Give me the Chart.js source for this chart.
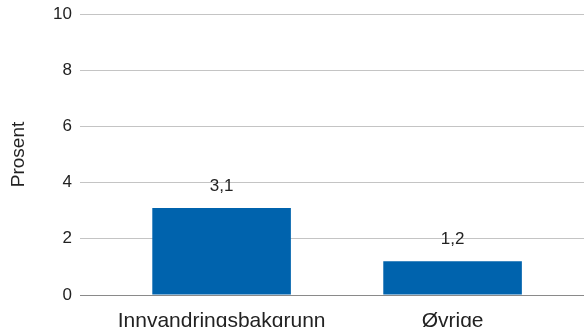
<!DOCTYPE html>
<html>
<head>
<meta charset="utf-8">
<script src="https://cdn.jsdelivr.net/npm/chart.js@4"></script>
<style>
  html, body { margin: 0; padding: 0; background: #fff; }
  #wrap { width: 584px; height: 327px; }
</style>
</head>
<body>
<div id="wrap"><canvas id="chart" width="584" height="327"></canvas></div>
<script>
// Data
const categories = ['Innvandringsbakgrunn', 'Øvrige'];
const values = [3.1, 1.2];
const valueLabels = ['3,1', '1,2'];
const yTicks = [0, 2, 4, 6, 8, 10];

const FONT = '"Liberation Sans", Arial, sans-serif';
const TEXT = '#222';

// Value labels above each bar
const barLabels = {
  id: 'barLabels',
  afterDatasetsDraw(chart) {
    const ctx = chart.ctx;
    const meta = chart.getDatasetMeta(0);
    ctx.save();
    ctx.font = '17px ' + FONT;
    ctx.fillStyle = TEXT;
    ctx.textAlign = 'center';
    ctx.textBaseline = 'alphabetic';
    meta.data.forEach((bar, i) => {
      ctx.fillText(valueLabels[i], bar.x, bar.y - 17);
    });
    ctx.restore();
  }
};

new Chart(document.getElementById('chart'), {
  type: 'bar',
  data: {
    datasets: [{
      data: values.map((v, i) => ({ x: i, y: v })),
      backgroundColor: '#0063ad',
      borderWidth: 0,
      barPercentage: 0.6,
      categoryPercentage: 1
    }]
  },
  options: {
    responsive: false,
    animation: false,
    layout: { padding: { top: 14, right: 0, left: 0, bottom: 0 } },
    plugins: {
      legend: { display: false },
      tooltip: { enabled: false }
    },
    scales: {
      x: {
        type: 'linear',
        offset: false,
        min: -0.613,
        max: 1.569,
        grid: { display: false },
        border: { display: false },
        afterBuildTicks: (scale) => {
          scale.ticks = categories.map((c, i) => ({ value: i }));
        },
        afterFit: (scale) => { scale.height = 32; },
        ticks: {
          autoSkip: false,
          maxRotation: 0,
          padding: 6,
          color: TEXT,
          font: { family: FONT, size: 21 },
          callback: (v) => categories[v]
        }
      },
      y: {
        min: 0,
        max: 10,
        afterBuildTicks: (scale) => {
          scale.ticks = yTicks.map(v => ({ value: v }));
        },
        afterFit: (scale) => {
          scale.width = 80;
          scale.paddingTop = 0;
        },
        grid: {
          drawTicks: false,
          color: (c) => c.tick && c.tick.value === 0 ? '#8a8a8a' : '#c4c4c4',
          lineWidth: 1
        },
        border: { display: false },
        ticks: {
          padding: 8,
          color: TEXT,
          font: { family: FONT, size: 17 }
        },
        title: {
          display: true,
          text: 'Prosent',
          color: TEXT,
          font: { family: FONT, size: 19 },
          padding: { top: 7, bottom: 0 }
        }
      }
    }
  },
  plugins: [barLabels]
});
</script>
</body>
</html>
